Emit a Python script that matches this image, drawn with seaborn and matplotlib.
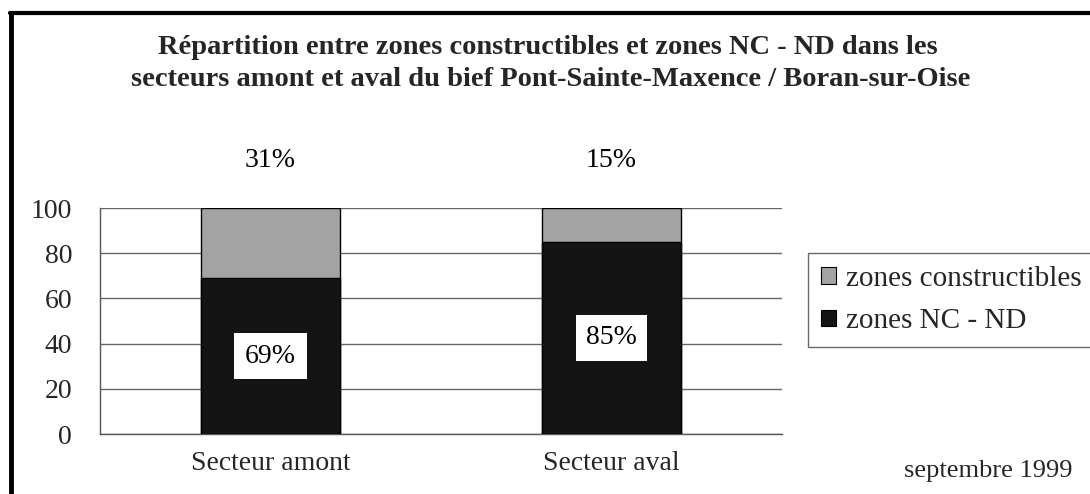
import matplotlib
matplotlib.use("Agg")
import matplotlib.pyplot as plt
from matplotlib.lines import Line2D
import seaborn as sns
import pandas as pd

# data
secteurs = ["Secteur amont", "Secteur aval"]
zones_nc_nd = [69, 85]
zones_constructibles = [31, 15]
yticks = [0, 20, 40, 60, 80, 100]

sns.set_theme(style="white")
plt.rcParams['font.family'] = ['Liberation Serif', 'DejaVu Serif']

df = pd.DataFrame({
    "secteur": secteurs,
    "nc": zones_nc_nd,
    "constr": zones_constructibles,
})
df["total"] = df["nc"] + df["constr"]

dark = "#141414"
grey = "#a3a3a3"

fig = plt.figure(figsize=(10.9, 4.94), dpi=100)
ax = fig.add_axes([100 / 1090, 1 - 434 / 494, 682 / 1090, 226 / 494])

# stacked bars: total in grey, dark part drawn over it
sns.barplot(data=df, x="secteur", y="total", color=grey, width=0.41,
            edgecolor="black", linewidth=1, saturation=1, ax=ax, zorder=3)
sns.barplot(data=df, x="secteur", y="nc", color=dark, width=0.41,
            edgecolor="black", linewidth=1, saturation=1, ax=ax, zorder=4)

ax.set_xlim(-0.5, 1.5)
ax.set_ylim(0, 100)
ax.set_yticks(yticks)
ax.set_yticklabels([str(t) for t in yticks], fontsize=20)
ax.set_xlabel("")
ax.set_ylabel("")
ax.tick_params(axis="x", labelsize=20, length=0, pad=12)
ax.set_xticks([-0.5, 0.5, 1.5], minor=True)
ax.tick_params(axis="x", which="minor", length=5, color="#555555", direction="out")
ax.tick_params(axis="y", length=6, color="#555555", direction="out", pad=14)
ax.yaxis.grid(True, color="#666666", linewidth=1)
ax.set_axisbelow(True)
for s in ["top", "right"]:
    ax.spines[s].set_visible(False)
for s in ["left", "bottom"]:
    ax.spines[s].set_color("#555555")
    ax.spines[s].set_linewidth(1)

# percentage labels
for i, row in df.iterrows():
    ax.text(i, 121, f"{row['constr']}%", ha="center", va="center", fontsize=20,
            color="black", clip_on=False)
    ax.text(i, row["nc"] / 2, f"{row['nc']}%", ha="center", va="center", fontsize=20,
            color="black", zorder=6,
            bbox=dict(boxstyle="square,pad=0.38", facecolor="white", edgecolor="none"))

# legend
handles = [plt.Rectangle((0, 0), 1, 1, facecolor=grey, edgecolor="black", linewidth=0.8),
           plt.Rectangle((0, 0), 1, 1, facecolor=dark, edgecolor="black", linewidth=0.8)]
leg = fig.legend(handles, ["zones constructibles", "zones NC - ND"],
                 loc="upper left", bbox_to_anchor=(808 / 1090, 1 - 253 / 494),
                 fontsize=21, frameon=True, fancybox=False, handlelength=0.5,
                 handleheight=0.5, handletextpad=0.35, borderpad=0.45,
                 labelspacing=0.55, borderaxespad=0)
leg.get_frame().set_edgecolor("#444444")
leg.get_frame().set_linewidth(1)

# title
fig.text(0.503, 1 - 48 / 494,
         "Répartition entre zones constructibles et zones NC - ND dans les",
         ha="center", va="center", fontsize=20.5, fontweight="bold")
fig.text(0.505, 1 - 80 / 494,
         "secteurs amont et aval du bief Pont-Sainte-Maxence / Boran-sur-Oise",
         ha="center", va="center", fontsize=20.5, fontweight="bold")

fig.text(1073 / 1090, 1 - 471 / 494, "septembre 1999", ha="right", va="center",
         fontsize=19)

# frame of the scanned page (left and top edges only)
fig.add_artist(Line2D([11 / 1090, 11 / 1090], [0, 1 - 13 / 494], color="black",
                      linewidth=3.5, transform=fig.transFigure))
fig.add_artist(Line2D([10 / 1090, 1], [1 - 13 / 494, 1 - 13 / 494], color="black",
                      linewidth=3, transform=fig.transFigure))

fig.savefig("out.png", dpi=100, facecolor="white")
